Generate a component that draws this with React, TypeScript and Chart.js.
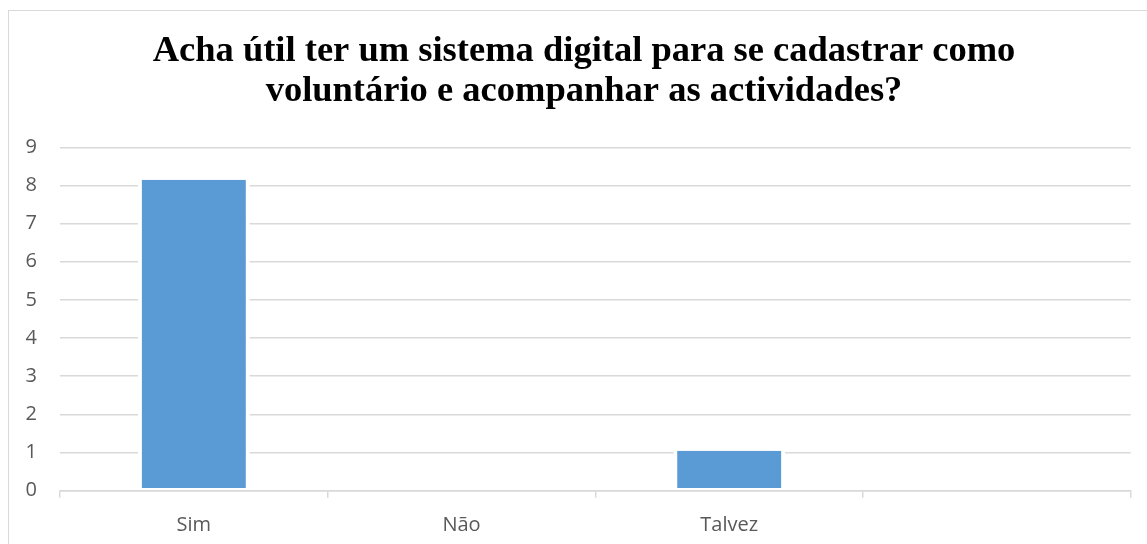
import React, { useEffect, useRef } from "react";
import { Chart, registerables } from "chart.js";

Chart.register(...registerables);

const titleLines = [
  "Acha útil ter um sistema digital para se cadastrar como",
  "voluntário e acompanhar as actividades?",
];
const categories = ["Sim", "Não", "Talvez", ""];
const values = [8.15, 0, 1.05, null];
const yMin = 0;
const yMax = 9;
const yStep = 1;

const GRID = "#d9d9d9";
const TEXT = "#595959";
const BAR = "#5b9bd5";

export default function App() {
  const ref = useRef<HTMLCanvasElement | null>(null);

  useEffect(() => {
    const canvas = ref.current;
    if (!canvas) return;
    const chart = new Chart(canvas, {
      type: "bar",
      data: {
        labels: categories,
        datasets: [
          {
            data: values as any,
            backgroundColor: BAR,
            borderColor: "#ffffff",
            borderWidth: { top: 0, right: 4, bottom: 2, left: 4 } as any,
            borderSkipped: false as any,
            barPercentage: 0.418,
            categoryPercentage: 1,
          },
        ],
      },
      options: {
        responsive: false,
        animation: false,
        events: [],
        layout: { padding: { left: 12, right: 0, top: 0, bottom: 3.3 } },
        plugins: {
          legend: { display: false },
          tooltip: { enabled: false },
          title: {
            display: true,
            text: titleLines,
            color: "#000000",
            font: { family: "'Liberation Serif', serif", size: 36.5, weight: "bold", lineHeight: "40px" as any },
            padding: { top: 21, bottom: 35.3 },
          },
        },
        scales: {
          x: {
            grid: {
              display: true,
              offset: true,
              drawOnChartArea: false,
              drawTicks: true,
              tickLength: 7,
              color: GRID,
              lineWidth: 1.5,
            },
            border: { display: true, color: GRID, width: 1.5 },
            ticks: {
              color: TEXT,
              font: { family: "'Open Sans', sans-serif", size: 20 },
              padding: 16,
              maxRotation: 0,
            },
            afterFit: (scale: any) => {
              scale.height = 50;
            },
          },
          y: {
            min: yMin,
            max: yMax,
            grid: { color: GRID, lineWidth: 1.5, drawTicks: false },
            border: { display: false },
            ticks: {
              stepSize: yStep,
              color: TEXT,
              font: { family: "'Open Sans', sans-serif", size: 20 },
              padding: 23,
            },
            afterFit: (scale: any) => {
              scale.width = 39;
            },
          },
          y2: {
            type: "linear",
            position: "right",
            display: true,
            grid: { display: false, drawTicks: false },
            border: { display: false },
            ticks: { display: false },
            afterFit: (scale: any) => {
              scale.width = 16.3;
            },
          },
        },
      },
    });
    return () => chart.destroy();
  }, []);

  return (
    <div
      style={{
        position: "fixed",
        left: 8,
        top: 10,
        width: 1139,
        height: 534,
        borderTop: `1px solid ${GRID}`,
        borderLeft: `1px solid ${GRID}`,
        boxSizing: "border-box",
        overflow: "hidden",
      }}
    >
      <canvas ref={ref} width={1138} height={533} style={{ display: "block" }} />
    </div>
  );
}
